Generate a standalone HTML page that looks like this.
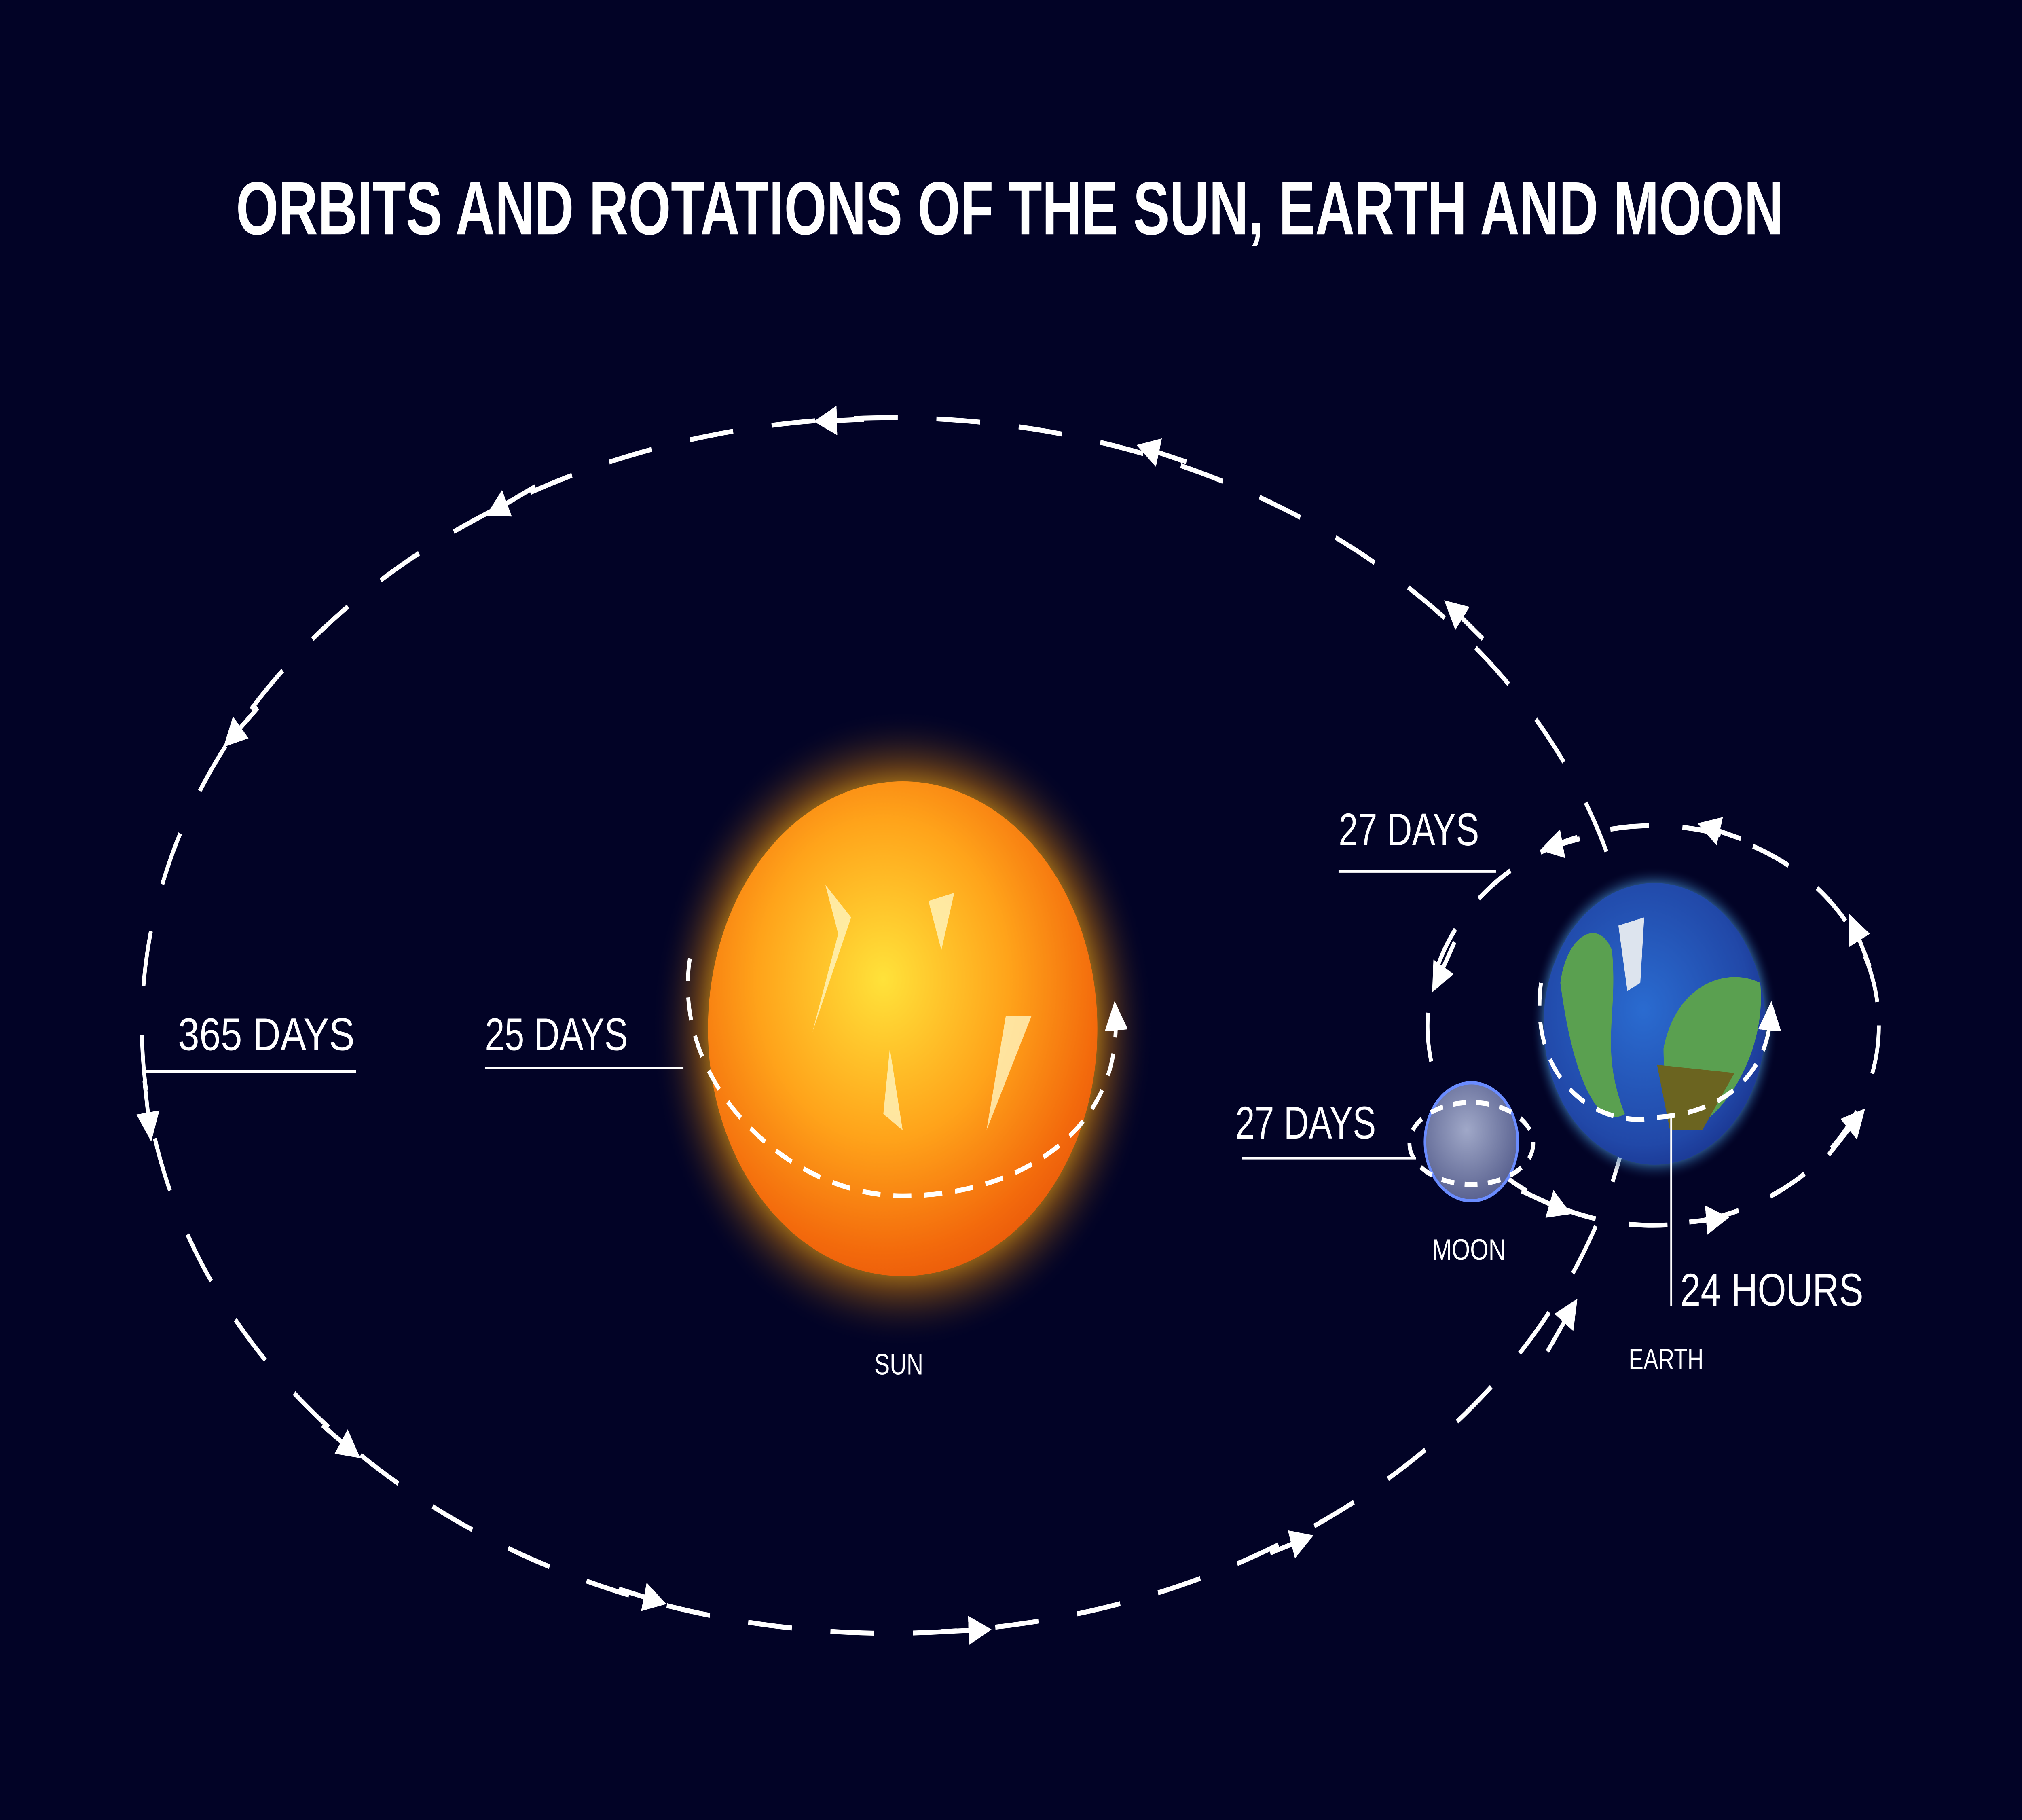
<!DOCTYPE html>
<html><head><meta charset="utf-8"><style>
html,body{margin:0;padding:0;background:#020326;width:100%;height:100%;overflow:hidden;}
svg{display:block;width:100vw;height:100vh;}
text{font-family:"Liberation Sans",sans-serif;fill:#fff;}
</style></head><body>
<svg viewBox="0 0 1568 1111" preserveAspectRatio="none" xmlns="http://www.w3.org/2000/svg">
<defs>
<radialGradient id="sunG" cx="0.45" cy="0.4" r="0.65">
<stop offset="0" stop-color="#ffe23a"/><stop offset="0.5" stop-color="#ffa31a"/><stop offset="0.85" stop-color="#f36a0c"/><stop offset="1" stop-color="#e8560a"/>
</radialGradient>
<radialGradient id="glow" cx="0.5" cy="0.5" r="0.5">
<stop offset="0.7" stop-color="#ffc21a" stop-opacity="0.9"/><stop offset="0.82" stop-color="#c9780a" stop-opacity="0.45"/><stop offset="1" stop-color="#020326" stop-opacity="0"/>
</radialGradient>
<radialGradient id="earthG" cx="0.45" cy="0.45" r="0.6">
<stop offset="0" stop-color="#2a6bd0"/><stop offset="0.8" stop-color="#2148a8"/><stop offset="1" stop-color="#1a3590"/>
</radialGradient>
<radialGradient id="eGlow" cx="0.5" cy="0.5" r="0.5">
<stop offset="0.85" stop-color="#58b6ff" stop-opacity="0.8"/><stop offset="1" stop-color="#020326" stop-opacity="0"/>
</radialGradient>
<radialGradient id="moonG" cx="0.45" cy="0.4" r="0.6">
<stop offset="0" stop-color="#a0a8c8"/><stop offset="1" stop-color="#5a6290"/>
</radialGradient>
<marker id="ar" markerWidth="6" markerHeight="6" refX="3" refY="3" orient="auto" markerUnits="strokeWidth"><path d="M0,0 L6,3 L0,6 Z" fill="#fff"/></marker>
</defs>
<rect width="1568" height="1111" fill="#020326"/>
<text x="183" y="143" font-size="46" font-weight="bold" textLength="1200" lengthAdjust="spacingAndGlyphs">ORBITS AND ROTATIONS OF THE SUN, EARTH  AND MOON</text>

<ellipse cx="690" cy="626" rx="580" ry="371" fill="none" stroke="#fff" stroke-width="3" stroke-dasharray="34 30"/>
<g stroke="#fff" stroke-width="3" fill="none" marker-end="url(#ar)">
<path d="M670,256 L640,257"/><path d="M920,282 L890,274"/><path d="M415,297 L385,311"/><path d="M1150,390 L1127,372"/>
<path d="M200,432 L180,450"/><path d="M112,660 L116,688"/><path d="M250,870 L272,885"/><path d="M480,970 L508,977"/>
<path d="M730,996 L760,995"/><path d="M985,948 L1010,940"/><path d="M1200,825 L1218,800"/>
</g>

<circle cx="700" cy="628" r="195" fill="url(#glow)"/>
<circle cx="700" cy="628" r="151" fill="url(#sunG)"/>
<g fill="#fff5c0" opacity="0.8"><path d="M640,540 L660,560 L630,630 L650,570Z"/><path d="M690,640 L700,690 L685,680Z"/><path d="M780,620 L800,620 L765,690Z"/><path d="M720,550 L740,545 L730,580Z"/></g>
<path d="M535,585 C520,660 610,730 700,730 C790,730 870,690 865,620" fill="none" stroke="#fff" stroke-width="3" stroke-dasharray="14 10" marker-end="url(#ar)"/>
<text x="697" y="839" text-anchor="middle" font-size="18" textLength="38" lengthAdjust="spacingAndGlyphs">SUN</text>

<ellipse cx="1282" cy="626" rx="175" ry="122" fill="none" stroke="#fff" stroke-width="3" stroke-dasharray="30 26"/>
<g stroke="#fff" stroke-width="3" fill="none" marker-end="url(#ar)"><path d="M1225,512 L1203,517"/><path d="M1350,512 L1325,505"/><path d="M1128,575 L1115,598"/><path d="M1450,590 L1438,566"/><path d="M1180,727 L1210,738"/><path d="M1310,746 L1332,744"/><path d="M1418,705 L1440,683"/></g>
<circle cx="1283" cy="625" r="96" fill="url(#eGlow)"/>
<circle cx="1283" cy="625" r="86" fill="url(#earthG)"/>
<g fill="#5aa050"><path d="M1210,600 C1215,570 1240,560 1250,580 C1255,620 1240,640 1260,680 C1240,690 1220,660 1210,600Z"/><path d="M1290,640 C1300,600 1340,590 1365,600 C1370,640 1340,680 1310,690 C1295,680 1290,660 1290,640Z"/></g>
<path d="M1255,565 L1275,560 L1272,600 L1262,605Z" fill="#dde4ee"/>
<path d="M1285,650 L1345,655 L1320,690 L1295,690Z" fill="#6b6420"/>
<path d="M1195,600 C1185,660 1240,690 1285,682 C1330,680 1370,660 1373,620" fill="none" stroke="#fff" stroke-width="3" stroke-dasharray="14 10" marker-end="url(#ar)"/>
<text x="1292" y="836" text-anchor="middle" font-size="18" textLength="58" lengthAdjust="spacingAndGlyphs">EARTH</text>

<circle cx="1141" cy="697" r="36" fill="url(#moonG)" stroke="#6a8cff" stroke-width="2"/>
<ellipse cx="1141" cy="698" rx="48" ry="25" fill="none" stroke="#fff" stroke-width="3" stroke-dasharray="10 8"/>
<text x="1139" y="769" text-anchor="middle" font-size="18" textLength="57" lengthAdjust="spacingAndGlyphs">MOON</text>

<g stroke="#fff" stroke-width="1.5">
<line x1="112" y1="654" x2="276" y2="654"/><line x1="376" y1="652" x2="530" y2="652"/><line x1="1038" y1="532" x2="1160" y2="532"/><line x1="963" y1="707" x2="1098" y2="707"/><line x1="1296" y1="682" x2="1296" y2="797"/>
</g>
<text x="138" y="641" font-size="28" textLength="137" lengthAdjust="spacingAndGlyphs">365  DAYS</text>
<text x="376" y="641" font-size="28" textLength="111" lengthAdjust="spacingAndGlyphs">25 DAYS</text>
<text x="1038" y="516" font-size="28" textLength="109" lengthAdjust="spacingAndGlyphs">27 DAYS</text>
<text x="958" y="695" font-size="28" textLength="109" lengthAdjust="spacingAndGlyphs">27 DAYS</text>
<text x="1303" y="797" font-size="28" textLength="142" lengthAdjust="spacingAndGlyphs">24 HOURS</text>
</svg>
</body></html>
